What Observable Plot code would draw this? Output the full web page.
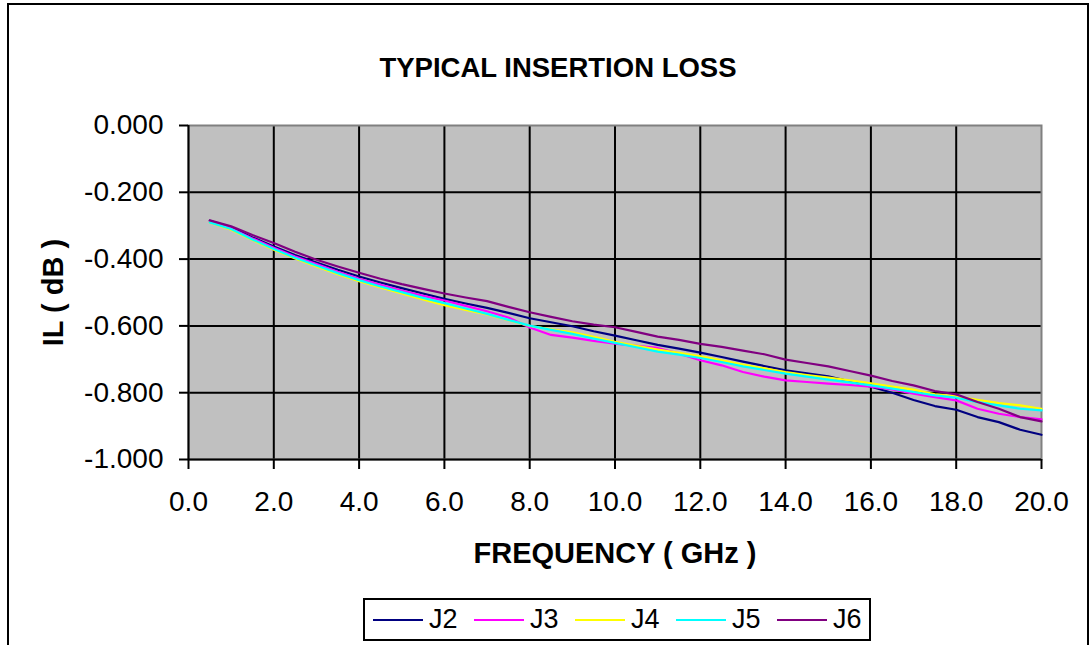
<!DOCTYPE html>
<html>
<head>
<meta charset="utf-8">
<script src="https://cdn.jsdelivr.net/npm/d3@7"></script>
<script src="https://cdn.jsdelivr.net/npm/@observablehq/plot@0.6"></script>
<style>
  html, body { margin: 0; padding: 0; background: #fff; overflow: hidden; }
  #wrap { position: relative; width: 1092px; height: 645px; overflow: hidden; font-family: "Liberation Sans", Arial, sans-serif; }
  #border { position: absolute; left: 7px; top: 3px; width: 1082px; height: 700px; border: 2px solid #000; border-bottom: none; box-sizing: border-box; }
  #title { position: absolute; left: 0; width: 1116px; top: 52px; text-align: center; font-weight: bold; font-size: 27.5px; color: #000; }
  #chart { position: absolute; left: 0; top: 0; }
  #legend { position: absolute; left: 363px; top: 598px; width: 508px; height: 43px; border: 2px solid #000; box-sizing: border-box; background: #fff; }
  .item { position: absolute; top: 0; height: 39px; display: flex; align-items: center; font-size: 27px; color: #000; }
  .sw { width: 50px; height: 0; border-top: 2px solid; margin-right: 6px; }
</style>
</head>
<body>
<div id="wrap">
  <div id="border"></div>
  <div id="chart"></div>
  <div id="title">TYPICAL INSERTION LOSS</div>
  <div id="legend"></div>
</div>
<script>
const freq = [0.5,1,1.5,2,2.5,3,3.5,4,4.5,5,5.5,6,6.5,7,7.5,8,8.5,9,9.5,10,10.5,11,11.5,12,12.5,13,13.5,14,14.5,15,15.5,16,16.5,17,17.5,18,18.5,19,19.5,20];
const J2 = [-0.285,-0.305,-0.335,-0.362,-0.388,-0.410,-0.432,-0.452,-0.470,-0.487,-0.503,-0.519,-0.533,-0.546,-0.561,-0.577,-0.589,-0.601,-0.616,-0.629,-0.643,-0.657,-0.668,-0.680,-0.693,-0.707,-0.720,-0.733,-0.742,-0.751,-0.766,-0.782,-0.800,-0.822,-0.840,-0.851,-0.873,-0.888,-0.911,-0.926];
const J3 = [-0.287,-0.308,-0.338,-0.366,-0.392,-0.415,-0.438,-0.459,-0.477,-0.494,-0.510,-0.524,-0.540,-0.556,-0.575,-0.605,-0.627,-0.635,-0.645,-0.653,-0.660,-0.666,-0.683,-0.703,-0.718,-0.738,-0.752,-0.763,-0.768,-0.773,-0.777,-0.782,-0.790,-0.803,-0.813,-0.823,-0.848,-0.863,-0.873,-0.880];
const J4 = [-0.290,-0.312,-0.343,-0.372,-0.398,-0.422,-0.445,-0.466,-0.485,-0.503,-0.521,-0.538,-0.552,-0.566,-0.583,-0.600,-0.610,-0.619,-0.633,-0.648,-0.660,-0.671,-0.681,-0.691,-0.703,-0.716,-0.727,-0.738,-0.747,-0.755,-0.763,-0.772,-0.782,-0.791,-0.805,-0.811,-0.821,-0.831,-0.838,-0.848];
const J5 = [-0.290,-0.310,-0.341,-0.370,-0.396,-0.419,-0.442,-0.463,-0.482,-0.499,-0.516,-0.532,-0.548,-0.564,-0.582,-0.599,-0.612,-0.624,-0.638,-0.651,-0.664,-0.677,-0.686,-0.696,-0.708,-0.721,-0.732,-0.743,-0.752,-0.761,-0.769,-0.778,-0.788,-0.798,-0.808,-0.815,-0.828,-0.838,-0.848,-0.853];
const J6 = [-0.284,-0.302,-0.328,-0.352,-0.378,-0.402,-0.422,-0.441,-0.459,-0.475,-0.489,-0.503,-0.515,-0.526,-0.543,-0.559,-0.573,-0.586,-0.596,-0.604,-0.618,-0.632,-0.642,-0.654,-0.663,-0.674,-0.685,-0.701,-0.711,-0.721,-0.735,-0.749,-0.765,-0.778,-0.795,-0.805,-0.828,-0.848,-0.873,-0.886];

const seriesNames = ["J2","J3","J4","J5","J6"];
const seriesColors = ["#000080","#FF00FF","#FFFF00","#00FFFF","#800080"];
const xTicks = [0,2,4,6,8,10,12,14,16,18,20];
const yTicks = [0,-0.2,-0.4,-0.6,-0.8,-1.0];
const title = "TYPICAL INSERTION LOSS";
const xLabel = "FREQUENCY ( GHz )";
const yLabel = "IL ( dB )";

const seriesValues = [J2, J3, J4, J5, J6];
const rows = [];
seriesNames.forEach((name, si) => {
  freq.forEach((f, i) => rows.push({series: name, f, v: seriesValues[si][i]}));
});

const font = "Liberation Sans, Arial, sans-serif";
const chart = Plot.plot({
  width: 1092,
  height: 600,
  marginTop: 125,
  marginLeft: 188,
  marginRight: 51,
  marginBottom: 141,
  style: {fontFamily: font, fontSize: "28px", color: "#000", background: "transparent", overflow: "visible"},
  x: {domain: [0, 20]},
  y: {domain: [-1, 0]},
  color: {domain: seriesNames, range: seriesColors},
  marks: [
    Plot.frame({fill: "#c0c0c0"}),
    Plot.gridX(xTicks.filter(d => d !== 0 && d !== 20), {stroke: "#000", strokeOpacity: 1, strokeWidth: 2}),
    Plot.gridY(yTicks.filter(d => d !== 0 && d !== -1), {stroke: "#000", strokeOpacity: 1, strokeWidth: 2}),
    Plot.frame({stroke: "#808080", strokeWidth: 2}),
    Plot.ruleX([0], {stroke: "#000", strokeWidth: 2}),
    Plot.ruleY([-1], {stroke: "#000", strokeWidth: 2}),
    Plot.axisX(xTicks, {tickSize: 10, tickPadding: 22, strokeWidth: 2, tickFormat: d => d.toFixed(1), label: null, fontSize: 28}),
    Plot.axisY(yTicks, {tickSize: 9, tickPadding: 16, strokeWidth: 2, tickFormat: d => d.toFixed(3), label: null, fontSize: 28}),
    Plot.line(rows, {x: "f", y: "v", z: "series", stroke: "series", strokeWidth: 2.2}),
    Plot.text([xLabel], {frameAnchor: "bottom", dy: 94, text: d => d, fontWeight: "bold", fontSize: 29, lineAnchor: "middle", textAnchor: "middle"}),
    Plot.text([yLabel], {frameAnchor: "left", dx: -135, text: d => d, rotate: -90, fontWeight: "bold", fontSize: 29, lineAnchor: "middle", textAnchor: "middle"})
  ]
});
document.getElementById("chart").appendChild(chart);
document.getElementById("title").textContent = title;

const legend = document.getElementById("legend");
seriesNames.forEach((name, i) => {
  const it = document.createElement("div");
  it.className = "item";
  it.style.left = (8 + i * 101) + "px";
  const sw = document.createElement("div");
  sw.className = "sw";
  sw.style.borderTopColor = seriesColors[i];
  const tx = document.createElement("span");
  tx.textContent = name;
  it.appendChild(sw);
  it.appendChild(tx);
  legend.appendChild(it);
});
</script>
</body>
</html>
